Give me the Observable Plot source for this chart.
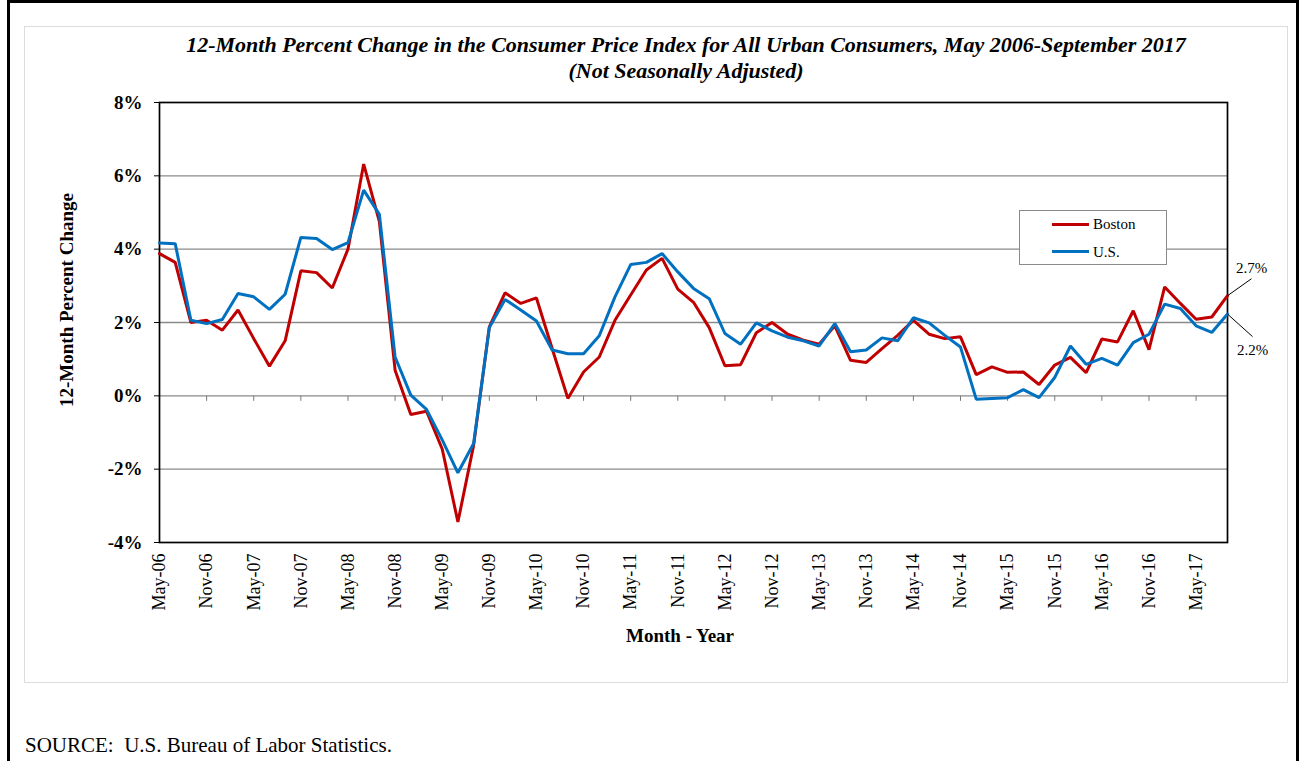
<!DOCTYPE html>
<html>
<head>
<meta charset="utf-8">
<script src="https://cdn.jsdelivr.net/npm/d3@7"></script>
<script src="https://cdn.jsdelivr.net/npm/@observablehq/plot@0.6"></script>
<style>
  html, body { margin: 0; padding: 0; background: #fff; }
  #wrap { position: relative; width: 1303px; height: 761px; overflow: hidden; font-family: "Liberation Serif", "Times New Roman", serif; }
  #wrap svg { position: absolute; left: 0; top: 0; }
  .ov { position: absolute; white-space: nowrap; color: #000; }
</style>
</head>
<body>
<div id="wrap"></div>
<script>
// Bimonthly periods (categories)
const periods = ["May-06","Jul-06","Sep-06","Nov-06",
  "Jan-07","Mar-07","May-07","Jul-07","Sep-07","Nov-07",
  "Jan-08","Mar-08","May-08","Jul-08","Sep-08","Nov-08",
  "Jan-09","Mar-09","May-09","Jul-09","Sep-09","Nov-09",
  "Jan-10","Mar-10","May-10","Jul-10","Sep-10","Nov-10",
  "Jan-11","Mar-11","May-11","Jul-11","Sep-11","Nov-11",
  "Jan-12","Mar-12","May-12","Jul-12","Sep-12","Nov-12",
  "Jan-13","Mar-13","May-13","Jul-13","Sep-13","Nov-13",
  "Jan-14","Mar-14","May-14","Jul-14","Sep-14","Nov-14",
  "Jan-15","Mar-15","May-15","Jul-15","Sep-15","Nov-15",
  "Jan-16","Mar-16","May-16","Jul-16","Sep-16","Nov-16",
  "Jan-17","Mar-17","May-17","Jul-17","Sep-17"];

// 12-month percent change, Boston
const boston = [3.88,3.64,2.00,2.06,
  1.79,2.34,1.56,0.81,1.50,3.41,
  3.36,2.94,4.00,6.32,4.75,0.70,
  -0.51,-0.42,-1.45,-3.44,-1.35,1.88,
  2.81,2.52,2.67,1.29,-0.07,0.65,
  1.06,2.06,2.75,3.43,3.75,2.91,
  2.55,1.86,0.82,0.85,1.72,2.00,
  1.68,1.52,1.41,1.91,0.97,0.91,
  1.29,1.65,2.06,1.68,1.56,1.61,
  0.58,0.79,0.64,0.65,0.31,0.84,
  1.05,0.63,1.55,1.47,2.32,1.26,
  2.97,2.52,2.09,2.15,2.73];

// 12-month percent change, U.S.
const us = [4.17,4.15,2.06,1.97,
  2.08,2.79,2.70,2.36,2.77,4.32,
  4.29,3.99,4.18,5.61,4.95,1.06,
  0.02,-0.37,-1.20,-2.10,-1.30,1.86,
  2.63,2.34,2.04,1.25,1.15,1.15,
  1.64,2.70,3.58,3.64,3.88,3.38,
  2.93,2.65,1.70,1.41,1.99,1.77,
  1.60,1.50,1.36,1.97,1.20,1.25,
  1.58,1.50,2.13,1.99,1.65,1.33,
  -0.09,-0.07,-0.05,0.17,-0.05,0.50,
  1.36,0.86,1.02,0.84,1.45,1.68,
  2.50,2.38,1.91,1.73,2.23];

// Axis tick labels
const xTickLabels = ["May-06","Nov-06","May-07","Nov-07","May-08","Nov-08","May-09","Nov-09",
  "May-10","Nov-10","May-11","Nov-11","May-12","Nov-12","May-13","Nov-13","May-14","Nov-14",
  "May-15","Nov-15","May-16","Nov-16","May-17"];
const yTicks = [-4,-2,0,2,4,6,8];
const gridValues = [-2,0,2,4,6];

const seriesNames = ["Boston","U.S."];
const seriesColors = ["#C00000","#0070C0"];

const titleLines = ["12-Month Percent Change in the Consumer Price Index for All Urban Consumers, May 2006-September 2017",
                    "(Not Seasonally Adjusted)"];
const yLabel = "12-Month Percent Change";
const xLabel = "Month - Year";
const sourceText = "SOURCE:  U.S. Bureau of Labor Statistics.";

// Build tidy table
const rows = [];
periods.forEach((p, i) => {
  rows.push({period: p, series: "Boston", value: boston[i]});
});
periods.forEach((p, i) => {
  rows.push({period: p, series: "U.S.", value: us[i]});
});
const last = periods.length - 1;

const tickSymbol = {draw(ctx) { ctx.moveTo(0, 0); ctx.lineTo(0, 5); }};
const leaderUp = {draw(ctx) { ctx.moveTo(0, 0); ctx.lineTo(24, -17); }};
const leaderDown = {draw(ctx) { ctx.moveTo(0, 0); ctx.lineTo(25, 22.5); }};

const chart = Plot.plot({
  width: 1303,
  height: 761,
  marginLeft: 159,
  marginRight: 76,
  marginTop: 102,
  marginBottom: 219,
  style: {fontFamily: "'Liberation Serif', 'Times New Roman', serif", background: "transparent", color: "#000"},
  x: {type: "point", domain: periods, padding: 0},
  y: {domain: [-4, 8]},
  marks: [
    Plot.ruleY(gridValues, {stroke: "#8a8a8a", strokeWidth: 1.3}),
    Plot.dot(xTickLabels, {x: d => d, y: () => 0, symbol: tickSymbol, fill: "none", stroke: "#777", strokeWidth: 1}),
    Plot.frame({stroke: "#000", strokeWidth: 1.7}),
    Plot.axisY({ticks: yTicks, tickFormat: d => d + "%", tickSize: 5, tickPadding: 12,
      fontSize: 19, fontWeight: "bold", label: null, stroke: "#000"}),
    Plot.axisX({ticks: xTickLabels, tickRotate: -90, tickSize: 0, tickPadding: 11,
      fontSize: 18, label: null}),
    Plot.line(rows.filter(d => d.series === "Boston"), {x: "period", y: "value", stroke: seriesColors[0], strokeWidth: 3, strokeLinejoin: "miter"}),
    Plot.line(rows.filter(d => d.series === "U.S."), {x: "period", y: "value", stroke: seriesColors[1], strokeWidth: 3, strokeLinejoin: "miter"}),
    Plot.dot([last], {x: i => periods[i], y: i => boston[i], symbol: leaderUp, fill: "none", stroke: "#000", strokeWidth: 1}),
    Plot.dot([last], {x: i => periods[i], y: i => us[i], symbol: leaderDown, fill: "none", stroke: "#000", strokeWidth: 1}),
    Plot.text([last], {x: i => periods[i], y: i => boston[i], text: i => boston[i].toFixed(1) + "%", dx: 24, dy: -28, fontSize: 15, fill: "#000"}),
    Plot.text([last], {x: i => periods[i], y: i => us[i], text: i => us[i].toFixed(1) + "%", dx: 25, dy: 36, fontSize: 15, fill: "#000"})
  ]
});

const wrap = document.getElementById("wrap");
wrap.appendChild(chart);

function ov(html, css) {
  const d = document.createElement("div");
  d.className = "ov";
  d.innerHTML = html;
  Object.assign(d.style, css);
  wrap.appendChild(d);
  return d;
}

// chart-area light border
ov("", {left: "24px", top: "26px", width: "1264px", height: "657px", border: "1px solid #dcdcdc", boxSizing: "border-box"});
// page border
ov("", {left: "7px", top: "0px", width: "1292px", height: "800px", border: "3px solid #000", boxSizing: "border-box"});

// title
ov(titleLines.map(t => `<div>${t}</div>`).join(""), {left: "186px", width: "1000px", top: "32px", textAlign: "center",
  fontSize: "22px", fontWeight: "bold", fontStyle: "italic", lineHeight: "26px"});

// y label
ov(yLabel, {left: "66.7px", top: "300px", transform: "translate(-50%,-50%) rotate(-90deg)", fontSize: "19px", fontWeight: "bold"});

// x label
ov(xLabel, {left: "680px", top: "636px", transform: "translate(-50%,-50%)", fontSize: "19px", fontWeight: "bold"});

// source
ov(sourceText, {left: "25px", top: "745px", transform: "translateY(-50%)", fontSize: "21px", whiteSpace: "pre"});

// legend
const legend = ov("", {left: "1019px", top: "210px", width: "148px", height: "55px", border: "1px solid #8a8a8a", background: "#fff", boxSizing: "border-box"});
seriesNames.forEach((name, k) => {
  const cy = [13, 40.5][k];
  const sw = document.createElement("div");
  Object.assign(sw.style, {position: "absolute", left: "32px", top: (cy - 1.5) + "px", width: "37px", height: "3px", background: seriesColors[k]});
  legend.appendChild(sw);
  const tx = document.createElement("div");
  tx.textContent = name;
  Object.assign(tx.style, {position: "absolute", left: "73px", top: (cy - 9) + "px", lineHeight: "18px", fontSize: "15px"});
  legend.appendChild(tx);
});
</script>
</body>
</html>
